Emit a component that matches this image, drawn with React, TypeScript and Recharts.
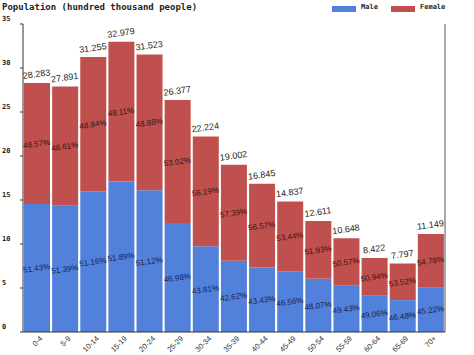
import { BarChart, Bar, XAxis, YAxis, LabelList } from "recharts";

const ageGroups = ["0-4", "5-9", "10-14", "15-19", "20-24", "25-29", "30-34", "35-39", "40-44", "45-49", "50-54", "55-59", "60-64", "65-69", "70+"];
const totals = [28.283, 27.891, 31.255, 32.979, 31.523, 26.377, 22.224, 19.002, 16.845, 14.837, 12.611, 10.648, 8.422, 7.797, 11.149];
const malePct = [51.43, 51.39, 51.16, 51.89, 51.12, 46.98, 43.81, 42.62, 43.43, 46.56, 48.07, 49.43, 49.06, 46.48, 45.22];
const femalePct = [48.57, 48.61, 48.84, 48.11, 48.88, 53.02, 56.19, 57.39, 56.57, 53.44, 51.93, 50.57, 50.94, 53.52, 54.78];
const yTicks = [0, 5, 10, 15, 20, 25, 30, 35];

const MALE = "#5181db";
const FEMALE = "#c0504d";

const data = ageGroups.map((age, i) => ({
  age,
  total: totals[i],
  male: (totals[i] * malePct[i]) / 100,
  female: totals[i] - (totals[i] * malePct[i]) / 100,
  malePct: malePct[i],
  femalePct: femalePct[i],
}));

const mono = "'DejaVu Sans Mono', monospace";
const sans = "'Liberation Sans', Arial, sans-serif";

function YTick({ y, payload }: any) {
  return (
    <text x={2} y={y - 3} fontFamily={mono} fontWeight="bold" fontSize={7} fill="#222">
      {payload.value}
    </text>
  );
}

function XTick({ x, y, payload }: any) {
  // anchor near the bar centre, just under the baseline
  const ax = x + 6;
  const ay = 339;
  return (
    <text
      x={ax}
      y={ay}
      textAnchor="end"
      fontFamily={sans}
      fontSize={7.5}
      fill="#333"
      transform={`rotate(-45, ${ax}, ${ay})`}
    >
      {payload.value}
    </text>
  );
}

function TotalLabel({ x, y, width, value }: any) {
  const cx = x + width / 2;
  const cy = y - 6;
  return (
    <text x={cx} y={cy} textAnchor="middle" fontFamily={sans} fontSize={9} fill="#222" transform={`rotate(-8, ${cx}, ${cy})`}>
      {Number(value).toFixed(3)}
    </text>
  );
}

function pctLabel(color: string) {
  return ({ x, y, width, height, value }: any) => {
    const cx = x + width / 2;
    const cy = y + height / 2 + 3;
    return (
      <text x={cx} y={cy} textAnchor="middle" fontFamily={sans} fontSize={8} fill={color} transform={`rotate(-8, ${cx}, ${cy})`}>
        {Number(value).toFixed(2)}%
      </text>
    );
  };
}

export default function App() {
  return (
    <div style={{ position: "absolute", left: 0, top: 0, width: 474, height: 355, background: "#fff" }}>
      <div style={{ position: "absolute", left: 2, top: 2, fontFamily: mono, fontWeight: "bold", fontSize: 9, color: "#222" }}>
        Population (hundred thousand people)
      </div>
      <div style={{ position: "absolute", left: 332, top: 6, width: 24, height: 6, background: MALE }} />
      <div style={{ position: "absolute", left: 361, top: 3, fontFamily: mono, fontWeight: "bold", fontSize: 7, color: "#222" }}>Male</div>
      <div style={{ position: "absolute", left: 391, top: 6, width: 24, height: 6, background: FEMALE }} />
      <div style={{ position: "absolute", left: 420, top: 3, fontFamily: mono, fontWeight: "bold", fontSize: 7, color: "#222" }}>Female</div>
      <BarChart
        width={474}
        height={355}
        data={data}
        margin={{ top: 24, right: 28, left: 0, bottom: 0 }}
        barCategoryGap={1}
      >
        <XAxis
          dataKey="age"
          height={23}
          interval={0}
          tick={<XTick />}
          tickLine={false}
          axisLine={{ stroke: "#333" }}
        />
        <YAxis
          width={23}
          domain={[0, 35]}
          ticks={yTicks}
          tick={<YTick />}
          tickSize={3}
          tickLine={{ stroke: "#333" }}
          axisLine={{ stroke: "#333" }}
        />
        <YAxis yAxisId="r" orientation="right" width={1} domain={[0, 35]} tick={false} tickLine={false} axisLine={{ stroke: "#555" }} />
        <Bar dataKey="male" stackId="a" fill={MALE} isAnimationActive={false}>
          <LabelList dataKey="malePct" content={pctLabel("#1a2550")} />
        </Bar>
        <Bar dataKey="female" stackId="a" fill={FEMALE} isAnimationActive={false}>
          <LabelList dataKey="femalePct" content={pctLabel("#3a1414")} />
          <LabelList dataKey="total" content={<TotalLabel />} />
        </Bar>
      </BarChart>
    </div>
  );
}
